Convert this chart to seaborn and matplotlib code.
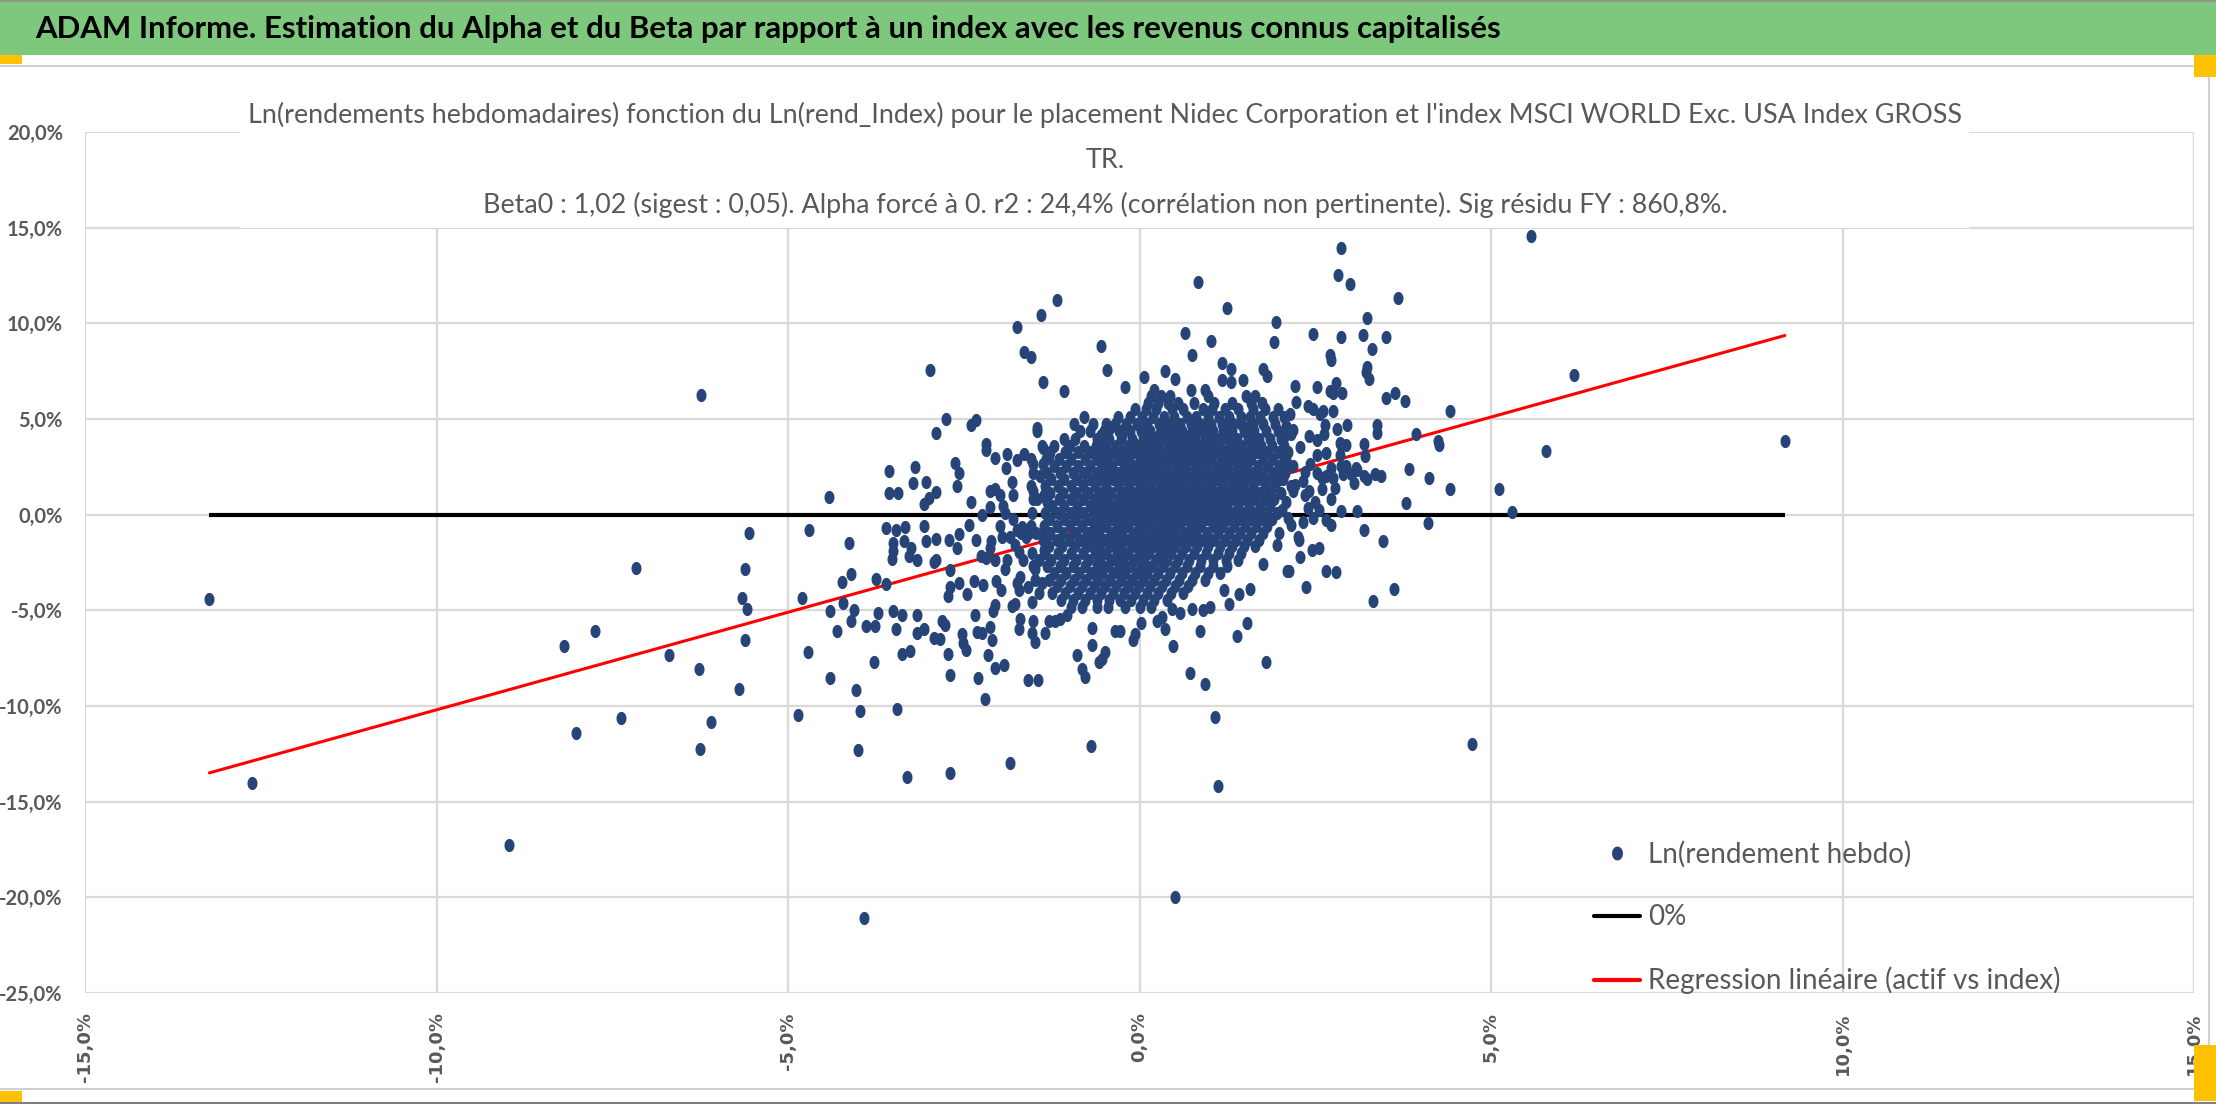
import numpy as np
import matplotlib
matplotlib.use("Agg")
import matplotlib.pyplot as plt
from matplotlib.patches import Rectangle
from matplotlib.lines import Line2D
import seaborn as sns

# Weekly log returns (%), index on x, asset on y
# isolated points around the cloud
out_x = [-13.23, -12.62, -6.24, -7.16, -8.97, -8.19, -7.75, -8.01, -7.38, -6.69, -6.26, -5.70,
         -6.10, -6.25, -5.55, -5.61, -5.66, -5.59, -5.61, -3.92, 0.50,
         -4.70, -4.42, -4.80, -4.72, -4.86, -4.13, -4.23, -4.10, -4.22, -4.40, -4.06, -4.10, -4.31,
         -4.40, -4.03, -3.98, -4.00, -3.89, -3.76, -3.75, -3.61, -3.72, -3.77, -3.57, -3.56, -3.43,
         -3.60, -3.46, -3.34, -3.51, -3.51, -3.52, -3.35, -3.25, -3.28, -3.17, -3.51, -3.38, -3.46,
         -3.38, -3.27, -3.45, -3.31, -3.20, -3.22, -2.98, -3.03, -3.07, -2.99, -2.90, -3.07, -3.03,
         -2.89, -2.93, -2.90, -3.17, -3.16, -3.07, -2.92, -2.84, -2.81, -2.76, -2.72, -2.69, -2.70,
         -2.89, -2.75, -2.63, -2.57, -2.60, -2.71, -2.70, -2.57, -2.60, -2.72, -2.69, -2.57, -2.45,
         -2.53, -2.51, -2.47, -2.39, -2.32, -2.43, -2.39, -2.33, -2.36, -2.34, -2.23, -2.30, -2.20,
         -2.31, -2.24, -2.19, -2.19, -2.05, -1.89, -1.90, -1.81, -1.80, -2.12, -2.05, -1.99, -2.12,
         -1.94, -1.92, -2.24, -1.99, -1.96, -1.84, -2.11, -2.12, -2.26, -2.19, -2.06, -1.92, -1.88,
         -2.04, -1.97, -2.06, -2.09, -2.12, -2.10, -2.16, -2.06, -1.93, -1.80, -1.74, -1.67, -1.62,
         -1.57, -1.74, -1.65, -1.74, -1.65, -1.54, -1.37, -1.40, -1.46, -1.58, -1.45, -1.84,
         -1.51, -1.37, -1.41, -1.37, -1.29, -1.51, -1.46, -1.36, -1.32, -1.77, -1.72, -1.66, -1.70,
         -1.74, -1.72, -1.77, -1.81, -1.70, -1.72, -1.58, -1.53, -1.51, -1.53, -1.49, -1.34, -1.39,
         -1.48, -1.43, -1.36, -1.34,
         0.83, 1.24, 1.94, 1.91, -1.18, -1.08, -0.55, -0.46, -0.20, 0.06, 0.36, 0.50, 0.65, 0.75,
         1.01, 1.18, 1.30, 1.30, 1.75, 1.81, 1.47, 0.21, 0.73, 0.93, 1.17,
         -0.69, 1.12, 1.08, 0.93, 0.72, 1.80, 1.38, 1.53, 0.86, 0.48, 0.36, 0.02, -0.09, -0.06,
         -0.28, -0.35, -0.49, -0.58, -0.53, -0.67, -0.67, -0.89, -0.82, -0.77, -1.29, -1.20, -1.13,
         -1.03, 0.74, 0.90, 1.00, 1.27, 1.20, 1.42, 1.57, 1.76, 2.10, 1.95, 0.58, 0.46, 0.32, 0.25,
         5.57, 2.87, 2.82, 3.00, 3.68, 3.23, 2.47, 2.87, 3.18, 3.51, 3.31, 2.71, 2.72, 3.23, 3.22,
         3.26, 2.21, 2.53, 2.80, 2.71, 2.75, 2.88, 3.50, 3.63, 3.77, 4.41, 2.22, 2.40, 2.47, 2.57,
         2.61, 3.94, 4.25, 4.26, 3.38, 3.38, 2.81, 2.95, 2.64, 2.63, 2.41, 2.52, 2.66, 2.85, 2.94,
         3.19, 3.21, 3.84, 4.12, 4.41, 5.11, 5.30, 3.79, 4.10, 3.35, 3.44, 3.23, 3.09, 3.05, 2.87,
         3.10, 3.20, 3.46, 3.62, 3.32, 2.80, 2.66, 2.37, 2.12, 2.29, 2.45, 2.55, 2.25, 2.27, 2.66,
         2.72, 2.47, 2.33, 2.16, 4.73,
         2.87, 2.94, 3.01, 2.89, 2.73, 2.78, 2.75, 2.59, 2.59, 2.52, 2.42, 2.36, 2.41, 2.35, 2.21,
         2.33, 2.14, 2.09, 2.18, 2.06, 2.16, 2.28, 2.09, 2.06, 2.04, 2.18, 2.09, 2.02, 2.11, 1.99,
         2.49, 2.56, 2.40, 2.73, 2.66, 2.85, 2.52, 3.20, 3.08, 2.87, 2.75,
         6.18, 5.78, 9.18]
out_y = [-4.39, -14.03, 6.28, -2.77, -17.25, -6.84, -6.06, -11.41, -10.63, -7.32, -8.07, -9.11,
         -10.84, -12.23, -0.97, -2.84, -4.33, -4.91, -6.54, -21.10, -20.00,
         -0.78, 0.92, -4.36, -7.18, -10.48, -1.48, -3.52, -3.08, -4.60, -5.02, -4.96, -5.56, -6.10,
         -8.56, -9.16, -10.24, -12.28, -5.82, -5.80, -3.36, -3.62, -5.12, -7.72, 2.30, 1.14, 1.14,
         -0.72, -0.80, -0.66, -1.46, -1.90, -2.34, -1.36, -1.76, -2.16, -2.36, -5.06, -5.26, -5.96,
         -7.26, -7.12, -10.16, -13.70, 2.48, 1.68, 7.58, 1.70, 0.54, 0.88, 1.20, -0.58, -1.36,
         -1.28, -2.48, -2.36, -5.22, -6.16, -5.96, -6.42, -6.50, -5.56, -5.76, -7.26, -8.38, -13.50,
         4.28, 5.00, 2.70, 2.18, 1.52, -1.30, -2.90, -1.02, -1.76, -4.26, -3.76, -3.56, -4.16,
         -6.26, -6.70, -7.06, 4.70, 4.94, -0.56, 0.64, -1.32, -3.46, -5.22, -3.70, -8.56, -9.62,
         -6.12, -6.16, 3.68, 3.40, 2.98, 3.18, 2.44, 1.70, 1.04, 1.24, 1.32, 1.04, 0.38,
         0.44, 0.08, 0.00, -0.58, -1.16, -1.16, -1.36, -1.76, -2.16, -2.26, -2.36, -2.82, -2.36,
         -3.48, -3.96, -4.72, -5.06, -5.86, -6.56, -7.36, -8.00, -7.88, -0.24, -0.80, -0.66, -1.16,
         -0.96, 2.88, 3.16, 9.80, 8.48, 8.22, 6.92, 10.44, 4.52, -8.66, -8.66, -12.96,
         2.64, 2.64, 2.04, 3.48, 3.08, 1.24, 0.84, 1.04, 0.64, -1.56, -1.96, -2.36, -3.26,
         -3.56, -3.96, -4.66, -4.76, -5.46, -5.96, -3.76, -4.56, -5.56, -6.16, -6.66, -6.16, -3.56,
         -2.86, -2.36, -1.86, -0.92,
         12.14, 10.80, 10.08, 9.00, 11.22, 6.44, 8.84, 7.58, 6.68, 7.22, 7.50, 7.08, 9.48, 8.34,
         9.08, 7.94, 7.60, 6.94, 7.62, 7.26, 7.04, 6.54, 6.54, 6.54, 7.04,
         -12.08, -14.16, -10.56, -8.86, -8.30, -7.72, -6.32, -5.66, -6.10, -6.86, -5.96, -5.66, -6.56, -6.26,
         -6.06, -6.06, -7.16, -7.72, -7.56, -6.82, -5.90, -7.36, -8.06, -8.46, -5.56, -5.56, -5.46,
         -5.26, -4.92, -4.96, -4.82, -4.66, -3.96, -4.16, -3.86, -2.56, -2.92, -1.56, -5.16, -4.92, -5.36, -5.56,
         14.58, 13.92, 12.54, 12.08, 11.34, 10.28, 9.44, 9.28, 9.38, 9.28, 8.68, 8.34, 8.08, 7.74, 7.44,
         7.10, 6.74, 6.66, 6.88, 6.44, 6.34, 6.38, 6.08, 6.38, 5.94, 5.42, 5.90, 5.70, 5.54, 5.24,
         5.44, 4.24, 3.84, 3.64, 4.70, 4.28, 4.50, 4.70, 4.68, 4.24, 4.12, 3.92, 3.20, 3.74, 3.64,
         3.70, 3.08, 2.40, 1.94, 1.34, 1.34, 0.14, 0.60, -0.46, 2.14, 2.04, 1.88, 2.34, 1.64, 0.18,
         0.20, -0.80, -1.36, -3.88, -4.52, -3.02, -2.92, -3.76, -2.92, -2.20, -1.86, -1.72, -1.16, -1.30, -0.26,
         -0.52, -0.16, -0.36, -0.56, -11.96,
         2.54, 2.54, 2.14, 2.14, 2.44, 1.40, 1.94, 1.94, 1.34, 2.20, 2.64, 2.24, 1.24, 1.04, 1.54,
         1.74, 5.24, 4.64, 4.44, 4.04, 4.24, 3.54, 2.84, 2.44, 1.84, 1.24, 0.64, 0.24, -0.16, -0.96,
         0.64, 0.24, 0.34, 0.84, 2.04, 3.14, 3.14, 2.04, 2.44, 3.64, 5.44,
         7.28, 3.32, 3.84]

# dense core of the cloud: one asset return level per row, index returns along the row
core_y = [6.2, 5.85, 5.5, 5.1, 4.75, 4.35, 3.95, 3.6, 3.25, 2.9, 2.55, 2.2, 1.85, 1.5, 1.15, 0.8,
          0.45, 0.1, -0.25, -0.6, -0.95, -1.3, -1.65, -2.0, -2.35, -2.7, -3.05, -3.4, -3.75, -4.1,
          -4.45, -4.8]
core_x = [
    [0.16, 0.31, 0.44, 0.98, 1.52, 1.64],
    [0.12, 0.27, 0.40, 0.55, 0.78, 1.06, 1.31, 1.58, 1.74],
    [-0.06, 0.09, 0.24, 0.46, 0.62, 0.90, 1.03, 1.21, 1.40, 1.62, 1.79, 1.97],
    [-0.79, -0.30, -0.14, 0.03, 0.19, 0.35, 0.49, 0.68, 0.81, 0.97, 1.13, 1.27, 1.45, 1.57, 1.71, 1.90, 2.06],
    [-0.93, -0.66, -0.47, -0.35, -0.19, -0.03, 0.11, 0.28, 0.41, 0.57, 0.73, 0.86, 1.01, 1.17, 1.33, 1.44, 1.62, 1.76, 1.93],
    [-1.46, -0.84, -0.70, -0.51, -0.29, -0.14, 0.02, 0.15, 0.31, 0.45, 0.60, 0.74, 0.88, 1.05, 1.19, 1.31, 1.48, 1.63, 1.80, 1.97, 2.12],
    [-1.08, -0.92, -0.61, -0.44, -0.27, -0.10, 0.05, 0.21, 0.36, 0.50, 0.66, 0.79, 0.94, 1.10, 1.26, 1.39, 1.55, 1.70, 1.86, 2.01],
    [-1.39, -1.21, -0.99, -0.79, -0.62, -0.47, -0.33, -0.17, -0.02, 0.13, 0.27, 0.41, 0.57, 0.72, 0.85, 1.00, 1.15, 1.29, 1.44, 1.60, 1.73, 1.89, 2.05],
    [-1.27, -1.06, -0.87, -0.70, -0.55, -0.38, -0.24, -0.08, 0.07, 0.22, 0.36, 0.50, 0.64, 0.80, 0.93, 1.08, 1.22, 1.38, 1.51, 1.67, 1.82, 1.98, 2.11],
    [-1.55, -1.33, -1.14, -0.97, -0.78, -0.62, -0.45, -0.31, -0.15, 0.00, 0.15, 0.30, 0.44, 0.59, 0.72, 0.88, 1.02, 1.16, 1.31, 1.45, 1.59, 1.75, 1.90, 2.05],
    [-1.22, -1.05, -0.88, -0.70, -0.54, -0.39, -0.22, -0.07, 0.09, 0.23, 0.37, 0.52, 0.66, 0.81, 0.95, 1.09, 1.24, 1.38, 1.53, 1.68, 1.83, 1.98, 2.18],
    [-1.52, -1.31, -1.13, -0.95, -0.79, -0.62, -0.46, -0.30, -0.14, 0.01, 0.16, 0.30, 0.45, 0.59, 0.74, 0.88, 1.02, 1.17, 1.31, 1.46, 1.61, 1.76, 1.92, 2.07],
    [-1.26, -1.07, -0.89, -0.72, -0.55, -0.38, -0.23, -0.06, 0.08, 0.23, 0.38, 0.52, 0.67, 0.81, 0.95, 1.10, 1.24, 1.39, 1.54, 1.69, 1.85, 2.00],
    [-1.54, -1.35, -1.16, -0.98, -0.81, -0.64, -0.47, -0.31, -0.15, 0.00, 0.15, 0.29, 0.44, 0.59, 0.73, 0.87, 1.02, 1.17, 1.32, 1.47, 1.62, 1.78, 1.93, 2.15],
    [-1.28, -1.09, -0.91, -0.73, -0.56, -0.40, -0.23, -0.07, 0.08, 0.22, 0.37, 0.51, 0.66, 0.80, 0.95, 1.09, 1.25, 1.40, 1.55, 1.70, 1.86, 2.01],
    [-1.52, -1.33, -1.15, -0.97, -0.80, -0.63, -0.47, -0.31, -0.15, 0.00, 0.14, 0.29, 0.44, 0.58, 0.73, 0.88, 1.03, 1.17, 1.32, 1.48, 1.63, 1.78, 1.92],
    [-1.25, -1.07, -0.89, -0.71, -0.55, -0.39, -0.23, -0.07, 0.07, 0.21, 0.36, 0.51, 0.66, 0.80, 0.95, 1.10, 1.25, 1.40, 1.56, 1.71, 1.86],
    [-1.53, -1.34, -1.16, -0.98, -0.81, -0.64, -0.47, -0.31, -0.15, 0.00, 0.14, 0.29, 0.43, 0.58, 0.73, 0.88, 1.03, 1.18, 1.33, 1.49, 1.64, 1.80, 1.95],
    [-1.27, -1.08, -0.90, -0.73, -0.56, -0.40, -0.23, -0.08, 0.07, 0.22, 0.36, 0.51, 0.65, 0.80, 0.96, 1.11, 1.26, 1.41, 1.57, 1.73, 1.88],
    [-1.54, -1.36, -1.17, -0.99, -0.82, -0.65, -0.48, -0.32, -0.16, -0.01, 0.14, 0.28, 0.43, 0.58, 0.73, 0.88, 1.04, 1.19, 1.34, 1.50, 1.66, 1.82],
    [-1.68, -1.47, -1.28, -1.09, -0.91, -0.74, -0.57, -0.41, -0.25, -0.09, 0.06, 0.21, 0.35, 0.50, 0.65, 0.81, 0.96, 1.12, 1.27, 1.43, 1.59, 1.76],
    [-1.37, -1.18, -1.00, -0.83, -0.66, -0.49, -0.33, -0.17, -0.02, 0.13, 0.28, 0.43, 0.58, 0.73, 0.89, 1.05, 1.21, 1.37, 1.53, 1.70],
    [-1.29, -1.10, -0.92, -0.75, -0.58, -0.42, -0.26, -0.10, 0.05, 0.20, 0.35, 0.50, 0.66, 0.82, 0.98, 1.14, 1.31, 1.48, 1.64],
    [-1.53, -1.35, -1.16, -0.98, -0.81, -0.64, -0.48, -0.32, -0.16, -0.01, 0.14, 0.29, 0.45, 0.61, 0.77, 0.94, 1.11, 1.28, 1.45],
    [-1.26, -1.08, -0.90, -0.73, -0.56, -0.40, -0.24, -0.08, 0.07, 0.23, 0.39, 0.55, 0.71, 0.88, 1.05, 1.23, 1.40],
    [-1.51, -1.32, -1.13, -0.95, -0.78, -0.61, -0.45, -0.29, -0.13, 0.02, 0.18, 0.34, 0.51, 0.68, 0.86, 1.04, 1.25],
    [-1.22, -1.04, -0.86, -0.69, -0.53, -0.37, -0.21, -0.05, 0.11, 0.27, 0.44, 0.61, 0.79, 0.98, 1.15],
    [-1.48, -1.29, -1.11, -0.93, -0.76, -0.59, -0.43, -0.27, -0.11, 0.05, 0.21, 0.38, 0.56, 0.75, 0.93],
    [-1.17, -0.99, -0.82, -0.65, -0.49, -0.33, -0.17, -0.01, 0.15, 0.32, 0.50, 0.69],
    [-1.43, -1.24, -1.06, -0.88, -0.71, -0.55, -0.38, -0.22, -0.06, 0.10, 0.27, 0.45, 0.62],
    [-1.12, -0.94, -0.77, -0.60, -0.44, -0.28, -0.12, 0.05, 0.21, 0.39],
    [-0.98, -0.82, -0.61, -0.45, -0.20, 0.01, 0.16],
]

# extra points packed in the middle of the cloud
inner_y = [4.55, 4.15, 3.78, 3.42, 3.08, 2.72, 2.38, 2.02, 1.68, 1.32, 0.98, 0.62, 0.28, -0.08,
           -0.42, -0.78, -1.12, -1.48, -1.82, -2.18, -2.52, -2.88, -3.22]
inner_x = [
    [-0.42, -0.20, 0.05, 0.35, 0.52, 0.80, 0.95, 1.25, 1.52],
    [-0.55, -0.25, 0.10, 0.28, 0.58, 0.72, 1.03, 1.21, 1.54],
    [-0.52, -0.09, 0.20, 0.48, 0.63, 0.92, 1.08, 1.36, 1.66],
    [-0.61, -0.30, 0.00, 0.15, 0.43, 0.71, 0.87, 1.14, 1.46],
    [-0.50, -0.20, 0.08, 0.37, 0.52, 0.80, 0.97, 1.28, 1.57],
    [-0.47, -0.15, 0.07, 0.22, 0.52, 0.65, 0.95, 1.16, 1.46],
    [-0.55, -0.22, 0.08, 0.38, 0.52, 0.81, 1.09, 1.39],
    [-0.46, -0.15, 0.16, 0.30, 0.60, 0.88, 1.02, 1.32],
    [-0.64, -0.30, 0.00, 0.30, 0.45, 0.74, 1.03, 1.32],
    [-0.48, -0.16, 0.15, 0.44, 0.58, 0.88, 1.17],
    [-0.55, -0.23, 0.07, 0.22, 0.51, 0.80, 1.10, 1.40],
    [-0.63, -0.31, 0.00, 0.29, 0.44, 0.73, 1.03],
    [-0.47, -0.15, 0.14, 0.43, 0.58, 0.88, 1.18],
    [-0.56, -0.23, 0.07, 0.36, 0.51, 0.80, 1.11],
    [-0.65, -0.32, -0.01, 0.28, 0.43, 0.73, 1.04],
    [-0.57, -0.25, 0.06, 0.35, 0.50, 0.81, 1.12],
    [-0.66, -0.33, -0.02, 0.28, 0.43, 0.73],
    [-0.58, -0.26, 0.05, 0.35, 0.50, 0.82],
    [-0.64, -0.32, -0.01, 0.29, 0.45],
    [-0.56, -0.24, 0.07, 0.39],
    [-0.61, -0.29, 0.02, 0.34],
    [-0.53, -0.21, 0.11],
    [-0.59, -0.27, 0.05],
]

beta0 = 1.02
x_ticks = [-15, -10, -5, 0, 5, 10, 15]
y_ticks = [20, 15, 10, 5, 0, -5, -10, -15, -20, -25]

header = "ADAM Informe. Estimation du Alpha et du Beta par rapport à un index avec les revenus connus capitalisés"
title_lines = [
    "Ln(rendements hebdomadaires) fonction du Ln(rend_Index) pour le placement Nidec Corporation et l'index MSCI WORLD Exc. USA Index GROSS",
    "TR.",
    "Beta0 : 1,02 (sigest : 0,05). Alpha forcé à 0. r2 : 24,4% (corrélation non pertinente). Sig résidu FY : 860,8%.",
]
legend_labels = ["Ln(rendement hebdo)", "0%", "Regression linéaire (actif vs index)"]

# assemble the scatter data
xs = list(out_x)
ys = list(out_y)
for yv, row in zip(core_y, core_x):
    xs += row
    ys += [yv] * len(row)
for yv, row in zip(inner_y, inner_x):
    xs += row
    ys += [yv] * len(row)
xs = np.array(xs) / 100
ys = np.array(ys) / 100

W, H = 2216, 1104
GRAY = "#595959"
BLUE = "#264478"


def fx(px):
    return px / W


def fy(py):
    return 1 - py / H


sns.set_style("white")
plt.rcParams["font.family"] = ["Lato", "DejaVu Sans"]

fig = plt.figure(figsize=(W / 100, H / 100), dpi=100)
fig.patch.set_facecolor("white")

# header band and chart frame
fig.add_artist(Rectangle((0, fy(55)), 1, 55 / H, transform=fig.transFigure,
                         facecolor="#7EC87E", edgecolor="none", zorder=0))
fig.add_artist(Line2D([0, 1], [fy(1), fy(1)], transform=fig.transFigure, color="#8A9A8A", lw=1.5))
fig.add_artist(Line2D([0, 1], [fy(66), fy(66)], transform=fig.transFigure, color="#D0D0D0", lw=1.5))
fig.add_artist(Line2D([0, 1], [fy(1089), fy(1089)], transform=fig.transFigure, color="#D0D0D0", lw=1.5))
fig.add_artist(Line2D([0, 1], [fy(1103), fy(1103)], transform=fig.transFigure, color="#7F7F7F", lw=1.5))
fig.add_artist(Line2D([fx(2209), fx(2209)], [fy(66), fy(1089)], transform=fig.transFigure, color="#D0D0D0", lw=1.5))
for (x0, y0, w, h) in [(0, 55, 22, 9), (2194, 55, 22, 22), (0, 1091, 22, 11), (2194, 1045, 22, 56)]:
    fig.add_artist(Rectangle((fx(x0), fy(y0 + h)), w / W, h / H, transform=fig.transFigure,
                             facecolor="#FFC000", edgecolor="none", zorder=3))

fig.text(fx(35), fy(29), header, fontsize=22.4, fontweight="bold", color="black",
         ha="left", va="center")

ax = fig.add_axes([fx(85), fy(993), fx(2194) - fx(85), fy(132) - fy(993)])

# zero line and regression line across the index range
x_span = np.array([xs.min(), xs.max()])
ax.plot(x_span, [0, 0], color="black", lw=3, zorder=2, solid_capstyle="butt")
ax.plot(x_span, beta0 * x_span, color="#FF0000", lw=2.2, zorder=2)

t = np.linspace(0, 2 * np.pi, 40)
ellipse = np.column_stack([0.38 * np.cos(t), 0.5 * np.sin(t)])
sns.scatterplot(x=xs, y=ys, ax=ax, color=BLUE, marker=ellipse, s=90, linewidth=0,
                zorder=3, legend=False)

ax.set_xlim(-0.15, 0.15)
ax.set_ylim(-0.25, 0.20)
ax.set_xticks(np.array(x_ticks) / 100)
ax.set_yticks(np.array(y_ticks) / 100)
ax.set_xticklabels([f"{v:.1f}%".replace(".", ",") for v in x_ticks], rotation=90,
                   fontsize=13, fontweight="bold", color=GRAY, family="DejaVu Sans", va="top")
ax.set_yticklabels([f"{v:.1f}%".replace(".", ",") for v in y_ticks],
                   fontsize=14.5, fontweight="bold", color=GRAY)
ax.tick_params(axis="x", length=0, pad=14)
ax.tick_params(axis="y", length=0, pad=16)
ax.grid(True, color="#D9D9D9", lw=1.6)
ax.set_axisbelow(True)
for s in ax.spines.values():
    s.set_visible(False)
ax.set_xlabel("")
ax.set_ylabel("")

# white title box over the top of the plot area
fig.add_artist(Rectangle((fx(240), fy(228)), (1969 - 240) / W, (228 - 88) / H,
                         transform=fig.transFigure, facecolor="white", edgecolor="none", zorder=4))
for line, py in zip(title_lines, [115, 160, 205]):
    fig.text(fx(1105), fy(py), line, fontsize=19.4, color=GRAY, ha="center", va="center", zorder=5)

handles = [
    Line2D([], [], linestyle="none", marker=ellipse, markersize=9, color=BLUE),
    Line2D([], [], color="black", lw=3),
    Line2D([], [], color="#FF0000", lw=3),
]
leg = ax.legend(handles, legend_labels, loc="upper left",
                bbox_to_anchor=((1594 - 85) / (2194 - 85), (993 - 841) / (993 - 132)),
                frameon=False, fontsize=20, handlelength=1.65, handletextpad=0.3,
                labelspacing=1.31, borderpad=0, borderaxespad=0)
for txt in leg.get_texts():
    txt.set_color(GRAY)

fig.savefig("out.png", dpi=100, facecolor="white")
